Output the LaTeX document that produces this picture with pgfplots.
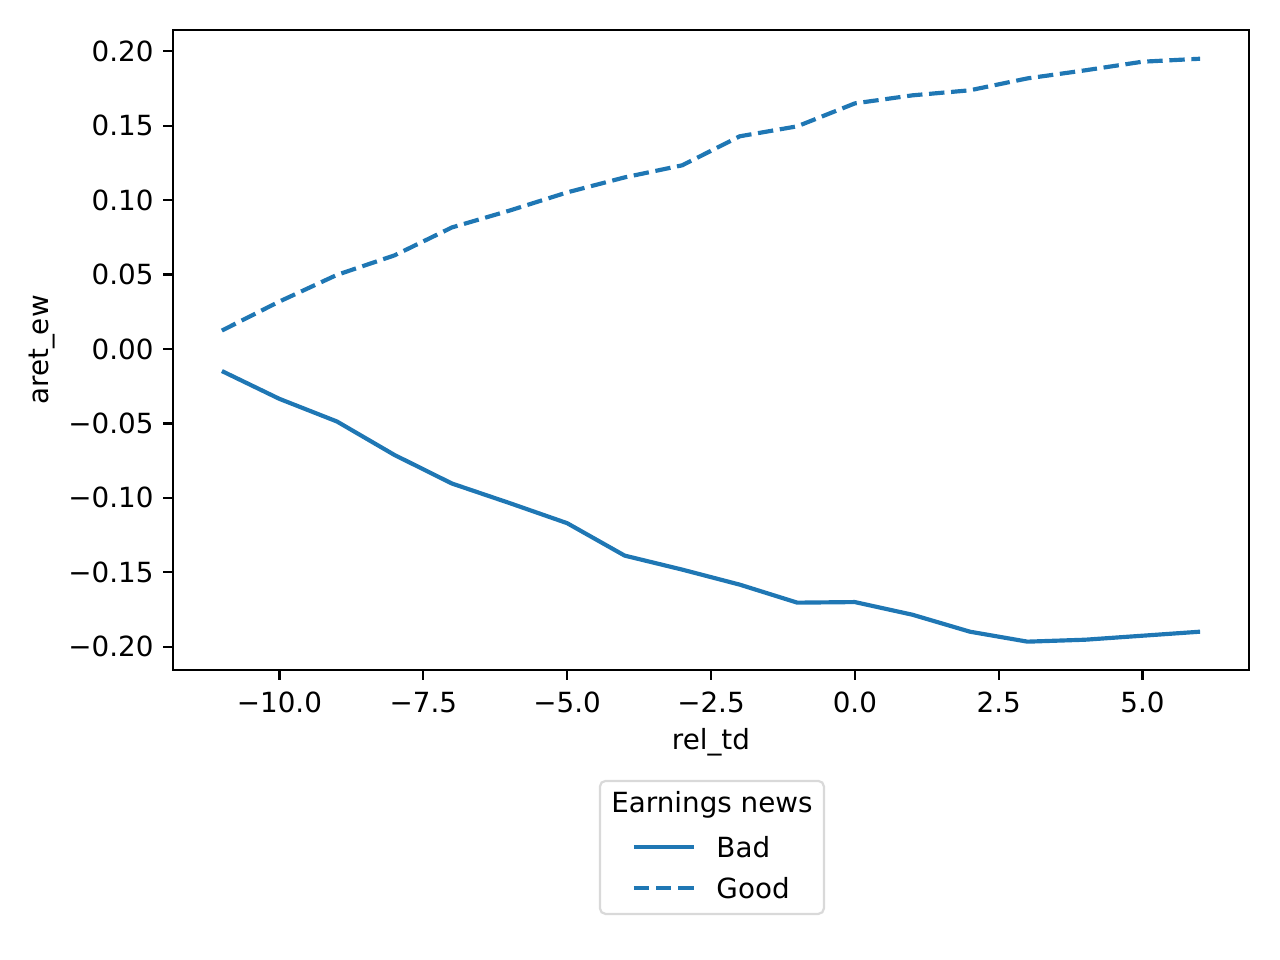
\documentclass[border=0pt]{standalone}
\usepackage{fontspec}
\setmainfont{DejaVu Sans}
\usepackage{pgfplots}
\pgfplotsset{compat=1.18}
\definecolor{tabblue}{HTML}{1F77B4}

\begin{document}
\begin{tikzpicture}[x=1pt,y=1pt]
\begin{axis}[
  at={(0,0)}, anchor=south west,
  scale only axis,
  width=387.4pt, height=230.4pt,
  xmin=-11.85, xmax=6.85,
  ymin=-0.2156, ymax=0.2143,
  axis line style={line width=0.8pt},
  tick align=outside, tick pos=left,
  major tick length=3.5pt,
  every tick/.style={black, line width=0.8pt},
  xtick={-10,-7.5,-5,-2.5,0,2.5,5},
  xticklabels={−10.0,−7.5,−5.0,−2.5,0.0,2.5,5.0},
  ytick={-0.2,-0.15,-0.1,-0.05,0,0.05,0.1,0.15,0.2},
  yticklabels={−0.20,−0.15,−0.10,−0.05,0.00,0.05,0.10,0.15,0.20},
  tick label style={font=\fontsize{10}{12}\selectfont},
  xticklabel style={yshift=-1pt},
  label style={font=\fontsize{10}{12}\selectfont},
  xlabel={rel\_td},
  ylabel={aret\_ew},
  every axis x label/.style={at={(axis description cs:0.5,-0.1124)}, anchor=center},
  every axis y label/.style={at={(axis description cs:-0.1218,0.5)}, rotate=90, anchor=center},
  clip=false,
]
% Bad earnings news
\addplot[tabblue, line width=1.5pt, line join=round] coordinates {
(-11,-0.0148) (-10,-0.0335) (-9,-0.0487) (-8,-0.0712) (-7,-0.0904)
(-6,-0.1035) (-5,-0.1170) (-4,-0.1388) (-3,-0.1482) (-2,-0.1583)
(-1,-0.1704) (0,-0.1700) (1,-0.1785) (2,-0.1899) (3,-0.1966)
(4,-0.1953) (5,-0.1926) (6,-0.1899)
};
% Good earnings news
\addplot[tabblue, line width=1.5pt, dash pattern=on 5.55pt off 2.4pt] coordinates {
(-11,0.0124) (-10,0.0319) (-9,0.0498) (-8,0.0629) (-7,0.0817)
(-6,0.0930) (-5,0.1052) (-4,0.1153) (-3,0.1234) (-2,0.1429)
(-1,0.1496) (0,0.1650) (1,0.1704) (2,0.1738) (3,0.1818)
(4,0.1872) (5,0.1930) (6,0.1950)
};
\end{axis}
% legend with title
\draw[black!15, line width=0.8pt, rounded corners=2pt, fill=white]
  (153.72,-39.96) rectangle (234.36,-87.84);
\node[font=\fontsize{10}{12}\selectfont, anchor=center] at (194.04,-48.6) {Earnings news};
\draw[tabblue, line width=1.5pt] (165.96,-63.72) -- (187.56,-63.72);
\draw[tabblue, line width=1.5pt, dash pattern=on 5.55pt off 2.4pt] (165.96,-78.48) -- (187.56,-78.48);
\node[font=\fontsize{10}{12}\selectfont, anchor=west, inner sep=0pt] at (195.48,-63.72) {Bad};
\node[font=\fontsize{10}{12}\selectfont, anchor=west, inner sep=0pt] at (195.48,-78.48) {Good};
\path[use as bounding box] (-62.28,-104.4) rectangle (398.56,241.2);
\end{tikzpicture}
\end{document}
